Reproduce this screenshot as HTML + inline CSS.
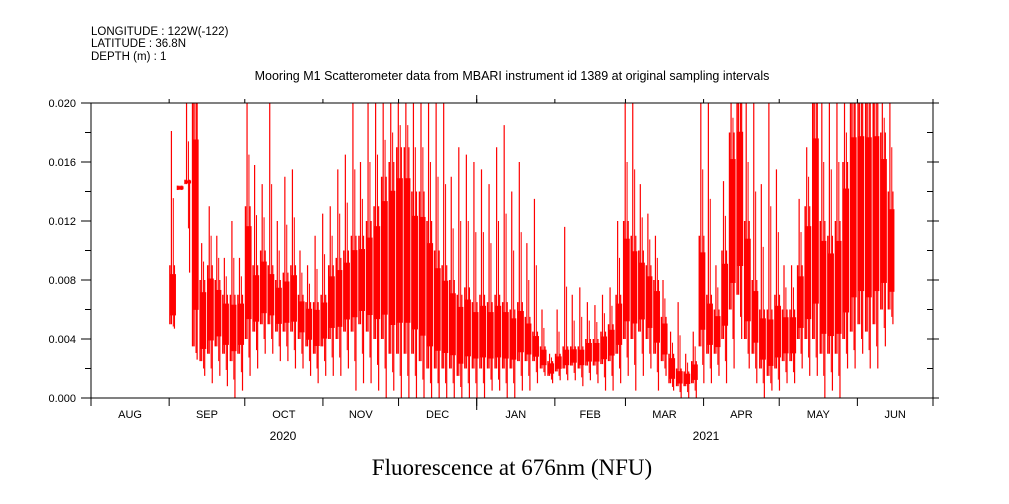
<!DOCTYPE html>
<html><head><meta charset="utf-8"><style>
body{margin:0;background:#fff;}
svg{display:block;font-family:"Liberation Sans",sans-serif;}
</style></head><body>
<svg id="chart" width="1009" height="504">
<g font-size="11.5" fill="#000">
<text x="91" y="35">LONGITUDE : 122W(-122)</text>
<text x="91" y="47">LATITUDE : 36.8N</text>
<text x="91" y="60">DEPTH (m) : 1</text>
<text x="512" y="80" text-anchor="middle" font-size="12.5">Mooring M1 Scatterometer data from MBARI instrument id 1389 at original sampling intervals</text>
</g>
<g id="series"></g>
<g id="axes"></g>
<text x="512" y="475" text-anchor="middle" font-family="'Liberation Serif',serif" font-size="23">Fluorescence at 676nm (NFU)</text>
</svg>
<script>
// data: 3-day bins starting Sep 1 2020, values in NFU x 1000
const binStartDay = 31; // days after Aug 1 2020
const binDays = 3;
const troughs = [4.7,14.1,8.5,2.6,1.5,1,1.5,0.8,0,0.5,1.5,2,3,3,2.5,2.5,2,2,1.5,1,1.5,1.5,1.5,2,0.5,1,1,0.5,0,0.5,0,0,0,0,0,0,0,0,0,0,0,0,0.5,0.5,0,0,0.5,0.5,1,1.5,1,1.2,1.2,1.2,0.8,1.2,1,0.5,0.5,1,1.5,0.5,1.5,2,0.5,1.5,0.5,0,0,0,1,1,1.5,1,2,4,2,1,0,0.5,0.5,1,1,2,1.5,1.5,0,0.5,0,2,2,3,2,2,3.5,5];
const coreLow = [5,14.1,14.5,3.5,2.5,3,3.5,3,2.5,3,4,4.5,5,5,4.5,4.5,4.5,4,3.5,3,3.5,4,4,4.5,4.5,5,4.5,4,4,3,3,3,3,2.5,2,2,2,2,1.5,2,2,2,2,2,2,2,2.5,2.5,2.5,2,1.5,1.8,2,2.2,2,2.2,2.2,2.3,2.5,3,4,4,4.5,4,3,2.5,1,0.8,0.8,1,3.5,3,3,4,6,7,4,3,2,1.5,2,2.5,2.5,4,4,4,3,3,3,4,4.5,5,4.5,5,6,6];
const coreHigh = [9,14.4,14.8,20,8,9,8,7,7,7,13,9,10,9,8,8.5,9,7,6.5,6.5,7,9,9.5,10,11,11,12,13,15,16,17,17,14,14,12,10,9,8,7,7.5,6.5,7,6.5,7,6.5,6,6.5,5.5,4.5,3.5,2.5,3,3.5,3.5,3.5,4,4,4.5,5,7,12,11,10,9,8,5.5,3,2,1.8,2.5,11,7,6,10,18,20,12,8,6,6,7,6,6,9,13,20,12,11,12,16,20,20,20,20,18,14];
const peaks = [18.1,14.4,20,20,10.5,13,11,9.5,12,9.5,20,15.8,14.5,20,12,15,15.5,10,9,11,12.5,13,15.5,16.5,20,16,20,20,20,20,20,20,20,20,20,20,20,15,17,16.5,16,15.5,14.5,17,18.5,14,16,10.5,13.5,6,3,6,11.6,7,7.5,6.5,6.3,7,7.5,12,20,20,14.5,12.5,11,8,4.5,6.5,3,4.5,20,20,9,14.7,20,20,20,20,14.5,20,15.5,9,9,13.5,17,20,20,20,20,20,20,20,20,20,20,20];
const yTicks = [0,0.004,0.008,0.012,0.016,0.020];
const yTickLabels = ["0.000","0.004","0.008","0.012","0.016","0.020"];
const monthLabels = ["AUG","SEP","OCT","NOV","DEC","JAN","FEB","MAR","APR","MAY","JUN"];
const monthLengths = [31,30,31,30,31,31,28,31,30,31,30];
const yearLabels = ["2020","2021"];

const X0=91,X1=933,Y0=398,Y1=103,TOTAL=334;
const xs=d=>X0+(X1-X0)*d/TOTAL;
const ys=v=>Y0-(Y0-Y1)*v/0.020;
const NS="http://www.w3.org/2000/svg";
function mk(tag,at,parent){const e=document.createElementNS(NS,tag);for(const k in at)e.setAttribute(k,at[k]);parent.appendChild(e);return e;}
const S=document.getElementById('series'),A=document.getElementById('axes');
for(let i=0;i<troughs.length;i++){
  const d0=binStartDay+i*binDays, xa=xs(d0), xb=xs(d0+binDays), w=xb-xa;
  const lo=coreLow[i]/1000, hi=coreHigh[i]/1000, tr=troughs[i]/1000, pk=peaks[i]/1000;
  const mlo=lo+(hi-lo)*0.15, mhi=hi-(hi-lo)*0.15;
  const r=mk('rect',{x:xa+w*0.1,y:ys(mhi),width:w*0.8,height:Math.max(1,ys(mlo)-ys(mhi)),fill:'#ff0000'},S);
  
  
  const c1=mk('line',{x1:xa+w*0.1,x2:xa+w*0.1,y1:ys(lo),y2:ys(hi),stroke:'#ff0000','stroke-width':1.5},S);
  
  
  const l1=mk('line',{x1:xa+w*0.3,x2:xa+w*0.3,y1:ys(lo),y2:ys(pk),stroke:'#ff0000','stroke-width':1.2},S);
  
  
  const l2=mk('line',{x1:xa+w*0.7,x2:xa+w*0.7,y1:ys(hi),y2:ys(tr),stroke:'#ff0000','stroke-width':1.2},S);
  
  
  const l3=mk('line',{x1:xa+w*0.55,x2:xa+w*0.55,y1:ys((lo+tr)/2),y2:ys((hi+pk)/2),stroke:'#ff0000','stroke-width':1},S);
  
  
}
const frame=mk('rect',{x:X0,y:Y1,width:X1-X0,height:Y0-Y1,fill:'none',stroke:'#000','stroke-width':1},A);


for(let k=0;k<=10;k++){
  const v=k*0.002, y=ys(v), major=k%2===0;
  mk('line',{x1:X0-(major?10:6),x2:X0,y1:y,y2:y,stroke:'#000'},A);
  mk('line',{x1:X1-6,x2:X1+(major?6:0),y1:y,y2:y,stroke:'#000'},A);
}
yTicks.forEach((v,i)=>{
  const t=mk('text',{x:76,y:ys(v)+4,'text-anchor':'end','font-size':11},A);
  t.textContent=yTickLabels[i];
  
  
});
let d=0;
monthLabels.forEach((m,i)=>{
  const mid=d+monthLengths[i]/2;
  const t=mk('text',{x:xs(mid),y:418,'text-anchor':'middle','font-size':11},A);
  t.textContent=m;
  
  
  d+=monthLengths[i];
  mk('line',{x1:xs(d),x2:xs(d),y1:Y0,y2:Y0+8,stroke:'#000'},A);
  mk('line',{x1:xs(d),x2:xs(d),y1:Y1-4,y2:Y1,stroke:'#000'},A);
});
mk('line',{x1:X0,x2:X0,y1:Y0,y2:Y0+8,stroke:'#000'},A);
const jan=xs(153);
mk('line',{x1:jan,x2:jan,y1:Y1-8,y2:Y1,stroke:'#000'},A);
mk('line',{x1:jan,x2:jan,y1:Y0,y2:Y0+12,stroke:'#000'},A);
[[yearLabels[0],283],[yearLabels[1],706]].forEach(([s,x])=>{
  const t=mk('text',{x:x,y:440,'text-anchor':'middle','font-size':12},A);
  t.textContent=s;
  
  
});
</script>
</body></html>
